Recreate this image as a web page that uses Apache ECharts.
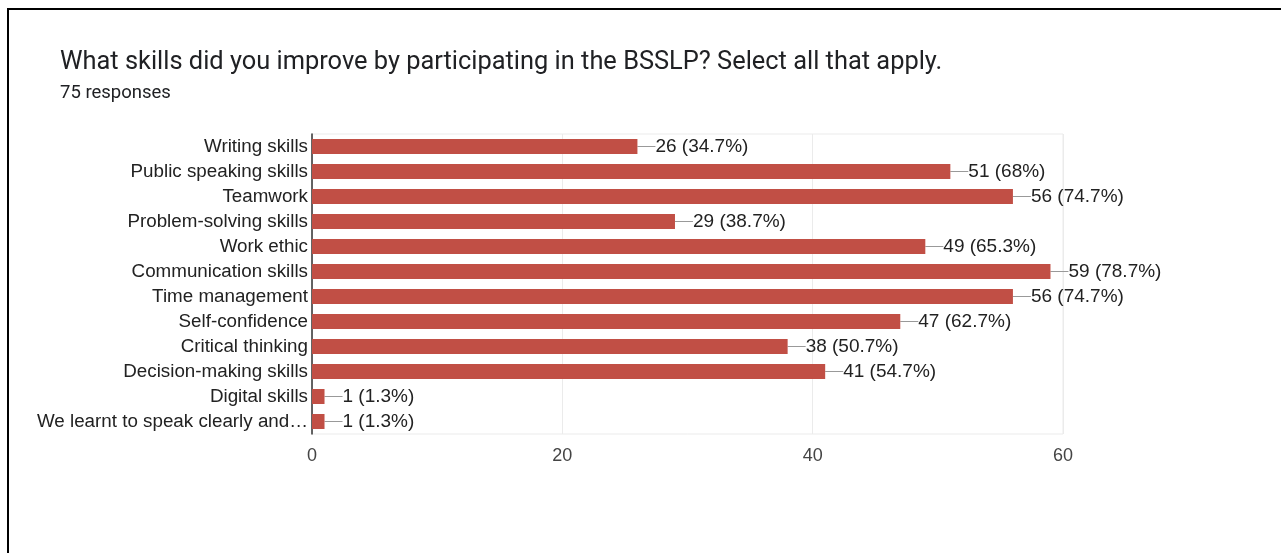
<!DOCTYPE html>
<html>
<head>
<meta charset="utf-8">
<style>
  html, body { margin: 0; padding: 0; background: #fff; }
  #chart { width: 1281px; height: 553px; }
</style>
<script src="https://cdn.jsdelivr.net/npm/echarts@6/dist/echarts.min.js"></script>
</head>
<body>
<div id="chart"></div>
<script>
// Survey question and response count
const questionTitle = 'What skills did you improve by participating in the BSSLP? Select all that apply.';
const totalResponses = 75;

// Answer options, top to bottom
const skills = [
  'Writing skills',
  'Public speaking skills',
  'Teamwork',
  'Problem-solving skills',
  'Work ethic',
  'Communication skills',
  'Time management',
  'Self-confidence',
  'Critical thinking',
  'Decision-making skills',
  'Digital skills',
  'We learnt to speak clearly and…'
];

// Number of respondents who picked each option
const counts = [26, 51, 56, 29, 49, 59, 56, 47, 38, 41, 1, 1];

// Value axis ticks
const axisTicks = [0, 20, 40, 60];

const ARIAL = '"Liberation Sans", Arial, Helvetica, sans-serif';
const chart = echarts.init(document.getElementById('chart'));

function pct(v) {
  const p = Math.round(v / totalResponses * 1000) / 10;
  return (p % 1 === 0 ? p.toFixed(0) : p.toFixed(1)) + '%';
}

chart.setOption({
  backgroundColor: '#ffffff',
  animation: false,
  graphic: [
    // frame lines along the top and left edge
    { type: 'line', shape: { x1: 7, y1: 9, x2: 1281, y2: 9 }, style: { stroke: '#000', lineWidth: 2 } },
    { type: 'line', shape: { x1: 8, y1: 8, x2: 8, y2: 553 }, style: { stroke: '#000', lineWidth: 2 } },
    {
      type: 'text', left: 60, top: 50,
      style: { text: questionTitle, fill: '#202124', font: '400 25.4px Roboto, "Open Sans", sans-serif' }
    },
    {
      type: 'text', left: 60, top: 84,
      style: { text: totalResponses + ' responses', fill: '#202124', font: '400 18.5px Roboto, "Open Sans", sans-serif' }
    }
  ],
  grid: {
    left: 312, right: 218, top: 134, bottom: 119,
    show: true, borderColor: '#ebebeb', borderWidth: 1
  },
  xAxis: {
    type: 'value',
    min: axisTicks[0],
    max: axisTicks[axisTicks.length - 1],
    interval: axisTicks[1] - axisTicks[0],
    axisLine: { show: false },
    axisTick: { show: false },
    splitLine: { show: true, lineStyle: { color: '#ebebeb', width: 1 } },
    axisLabel: {
      margin: 13,
      color: '#444',
      fontSize: 18,
      fontFamily: ARIAL
    }
  },
  yAxis: {
    type: 'category',
    data: skills,
    inverse: true,
    axisLine: { show: true, lineStyle: { color: '#333', width: 1.5 } },
    axisTick: { show: false },
    splitLine: { show: false },
    axisLabel: {
      margin: 4,
      color: '#222',
      fontSize: 18.8,
      fontFamily: ARIAL
    }
  },
  series: [{
    type: 'bar',
    data: counts,
    barWidth: 15,
    itemStyle: { color: '#c14f45' },
    label: {
      show: true,
      position: 'right',
      distance: 0,
      color: '#222',
      fontSize: 19,
      fontFamily: ARIAL,
      formatter: p => p.value + ' (' + pct(p.value) + ')'
    },
    labelLayout: { dx: 18 },
    labelLine: { show: true, lineStyle: { color: '#999', width: 1 } }
  }]
});
</script>
</body>
</html>
